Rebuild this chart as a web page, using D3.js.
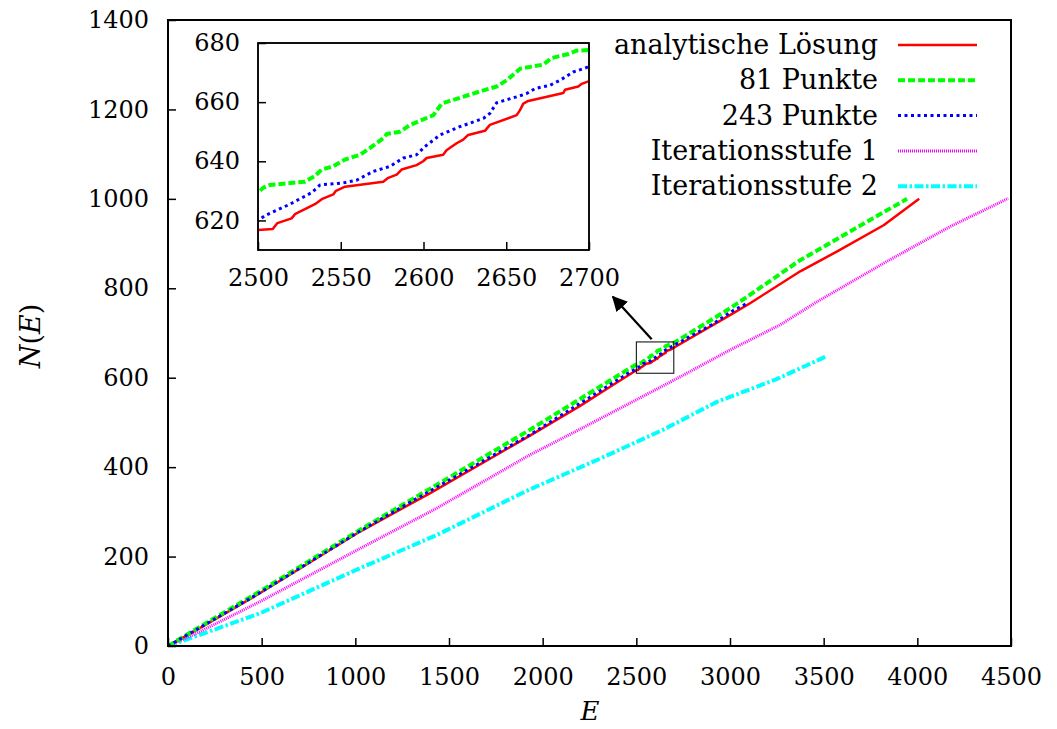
<!DOCTYPE html>
<html>
    <head>
        <style>
            body { margin: 0; background: white; }
            text { font-family: "DejaVu Serif", serif; fill: black; }
            .cadre { fill: none; stroke: black; stroke-width: 2; }
            .cadre_inset { fill: white; stroke: black; stroke-width: 1.5; }
            .axe path { display: none; }
            .axe line { stroke: black; stroke-width: 1.5; }
            .courbe { fill: none; stroke-linejoin: round; }
        </style>
    </head>
    <body>
        <div id="plateau"></div>
        <script src="https://cdn.jsdelivr.net/npm/d3@7"></script>
        <script>

//////////////////// donnees ////////////////////
// [E, N(E)]
let analytique = [[0,0],[170,40],[490,118],[1025,256],[1400,342],[1930,470],[2200,537],[2350,577],
    [2500,616.8],[2508.9,617.1],[2511.7,619.1],[2520.3,620.7],[2522.3,622.1],[2534.4,625.5],[2538.5,627.2],
    [2545.5,628.8],[2547.1,630],[2552.6,631.4],[2575.7,633.1],[2578.7,634.4],[2583.8,635.5],[2586.8,637.2],
    [2595.8,638.7],[2599.8,640],[2601.9,641.1],[2611.9,642.2],[2613.9,643.7],[2620,646.1],[2624,647.3],
    [2627,648.9],[2637.1,650.3],[2640.1,652.3],[2656.3,655.6],[2658.3,657.3],[2660.3,659.5],[2663.3,660.4],
    [2684.5,663.1],[2685.5,664.2],[2693.5,665.3],[2695.6,666.2],[2699.6,667],
    [3000,740],[3105,766],[3375,838],[3570,882],[3820,941],[4010,1000]];
let punkte81 = [[0,0],[170,43],[490,122],[1025,260],[1400,352],[1930,483],[2465,621],
    [2500,629.4],[2503.2,631.1],[2507.2,632],[2528.4,633.1],[2534.4,635],[2538.5,637.2],[2545.5,638.3],
    [2552.6,640.6],[2561.6,642.2],[2567.7,644.5],[2575.7,647.8],[2577.8,649.2],[2585.8,650],[2591.9,652.3],
    [2606,655.6],[2611,659.5],[2616,660.4],[2636.2,664],[2644.2,665.3],[2650.3,667.4],[2658.3,671.3],
    [2672.4,672.7],[2677.4,674.9],[2687.5,676.3],[2692.5,677.4],[2699.6,677.6],
    [3000,755],[3105,785],[3375,863],[3640,927],[3945,1000]];
let punkte243 = [[0,0],[170,41],[490,119],[1025,257],[1400,347],[1930,472],[2465,612],
    [2500,619.9],[2504.2,621.6],[2519.3,625.5],[2532.4,629.4],[2537.5,632],[2551.6,632.7],[2559.6,633.6],
    [2569.7,636.6],[2579.8,638.3],[2587.8,641.1],[2595.8,642.2],[2600.9,645],[2610,648.9],[2622,651.7],
    [2636.2,654.5],[2640.1,656.2],[2644.2,659.8],[2656.3,661.8],[2662.3,662.9],[2667.4,664.6],[2676.4,665.7],
    [2682.5,667.4],[2690.5,670.2],[2697.6,671.5],
    [2900,718],[3016,750],[3090,766]];
let iteration1 = [[0,0],[170,32],[490,99],[1025,218],[1434,308],[1930,427],[2200,485],[2465,543],
    [2716,598],[3000,662],[3267,718],[3465,770],[3820,856],[4175,938],[4485,1001]];
let iteration2 = [[0,0],[170,25],[490,73],[1025,174],[1434,248],[1930,350],[2290,416],[2645,484],
    [2930,546],[3000,557],[3250,597],[3515,648]];

let noms = ['analytische Lösung', '81 Punkte', '243 Punkte', 'Iterationsstufe 1', 'Iterationsstufe 2'];
let couleurs = ['#ff0000', '#00ff00', '#0000ff', '#ff00ff', '#00ffff'];
let epaisseurs = [2.5, 4, 3, 3, 4];
let tirets = ['none', '7,3', '3,3.5', '1,1', '9,2.5,2.5,2.5'];

let ticks_x = [0, 500, 1000, 1500, 2000, 2500, 3000, 3500, 4000, 4500];
let ticks_y = [0, 200, 400, 600, 800, 1000, 1200, 1400];
let ticks_xi = [2500, 2550, 2600, 2650, 2700];
let ticks_yi = [620, 640, 660, 680];
let domaine_xi = [2500, 2700];
let domaine_yi = [610, 680];
let fleche = [[2582, 686], [2375, 781]];

//////////////////// position page ////////////////////
let W = 1057, H = 729;
let x = d3.scaleLinear([0, 4500], [168, 1011]);
let y = d3.scaleLinear([0, 1400], [646, 20]);
let xi = d3.scaleLinear(domaine_xi, [258, 589]);
let yi = d3.scaleLinear(domaine_yi, [250, 43]);

let svg = d3.select('#plateau').append('svg')
    .attr('width', W)
    .attr('height', H);

let defs = svg.append('defs');
defs.append('clipPath').attr('id', 'clip_main').append('rect')
    .attr('x', 168).attr('y', 20).attr('width', 843).attr('height', 626);
defs.append('clipPath').attr('id', 'clip_inset').append('rect')
    .attr('x', xi(2500)).attr('y', yi(680)).attr('width', xi(2700) - xi(2500)).attr('height', yi(610) - yi(680));
defs.append('marker').attr('id', 'pointe')
    .attr('viewBox', '0 0 10 10').attr('refX', 9).attr('refY', 5)
    .attr('markerWidth', 7).attr('markerHeight', 7).attr('markerUnits', 'strokeWidth')
    .attr('orient', 'auto')
    .append('path').attr('d', 'M0,0 L10,5 L0,10 Z').attr('fill', 'black');

let series = [analytique, punkte81, punkte243, iteration1, iteration2];

//////////////////// graphe principal ////////////////////
let ligne = d3.line().x(d => x(d[0])).y(d => y(d[1]));
let g_main = svg.append('g').attr('clip-path', 'url(#clip_main)');
// ordre de dessin: iterations d'abord, puis les courbes proches
[4, 3, 0, 1, 2].forEach(i => {
    g_main.append('path')
        .classed('courbe', true)
        .attr('d', ligne(series[i]))
        .attr('stroke', couleurs[i])
        .attr('stroke-width', epaisseurs[i])
        .attr('stroke-dasharray', tirets[i]);
});

svg.append('g').classed('axe', true)
    .attr('transform', 'translate(0,646)')
    .call(d3.axisBottom(x).tickValues(ticks_x).tickSize(-8).tickPadding(22).tickFormat(d3.format('d')))
    .selectAll('text').attr('font-size', 24).attr('font-family', '"DejaVu Serif", serif');
svg.append('g').classed('axe', true)
    .attr('transform', 'translate(168,0)')
    .call(d3.axisLeft(y).tickValues(ticks_y).tickSize(-8).tickPadding(19).tickFormat(d3.format('d')))
    .selectAll('text').attr('font-size', 24).attr('font-family', '"DejaVu Serif", serif');

svg.append('rect').classed('cadre', true)
    .attr('x', 168).attr('y', 20).attr('width', 843).attr('height', 626);

// titres des axes
let titre_y = svg.append('text')
    .attr('transform', 'translate(40,336) rotate(-90)')
    .attr('text-anchor', 'middle')
    .attr('font-size', 27);
titre_y.append('tspan').attr('font-style', 'italic').text('N');
titre_y.append('tspan').text('(');
titre_y.append('tspan').attr('font-style', 'italic').text('E');
titre_y.append('tspan').text(')');

svg.append('text')
    .attr('x', 590).attr('y', 720)
    .attr('text-anchor', 'middle')
    .attr('font-size', 26)
    .attr('font-style', 'italic')
    .text('E');

// cadre de zoom et fleche
svg.append('rect')
    .attr('x', x(domaine_xi[0])).attr('y', y(domaine_yi[1]))
    .attr('width', x(domaine_xi[1]) - x(domaine_xi[0]))
    .attr('height', y(domaine_yi[0]) - y(domaine_yi[1]))
    .attr('fill', 'none').attr('stroke', 'black').attr('stroke-width', 1);
svg.append('line')
    .attr('x1', x(fleche[0][0])).attr('y1', y(fleche[0][1]))
    .attr('x2', x(fleche[1][0])).attr('y2', y(fleche[1][1]))
    .attr('stroke', 'black').attr('stroke-width', 2.2)
    .attr('marker-end', 'url(#pointe)');

//////////////////// encart ////////////////////
svg.append('rect').classed('cadre_inset', true)
    .attr('x', xi(2500)).attr('y', yi(680))
    .attr('width', xi(2700) - xi(2500)).attr('height', yi(610) - yi(680));

let ligne_i = d3.line().x(d => xi(d[0])).y(d => yi(d[1]));
let g_inset = svg.append('g').attr('clip-path', 'url(#clip_inset)');
[0, 1, 2].forEach(i => {
    g_inset.append('path')
        .classed('courbe', true)
        .attr('d', ligne_i(series[i]))
        .attr('stroke', couleurs[i])
        .attr('stroke-width', epaisseurs[i])
        .attr('stroke-dasharray', tirets[i]);
});

svg.append('g').classed('axe', true)
    .attr('transform', `translate(0,${yi(610)})`)
    .call(d3.axisBottom(xi).tickValues(ticks_xi).tickSize(-8).tickPadding(19).tickFormat(d3.format('d')))
    .selectAll('text').attr('font-size', 24).attr('font-family', '"DejaVu Serif", serif');
svg.append('g').classed('axe', true)
    .attr('transform', `translate(${xi(2500)},0)`)
    .call(d3.axisLeft(yi).tickValues(ticks_yi).tickSize(-8).tickPadding(18).tickFormat(d3.format('d')))
    .selectAll('text').attr('font-size', 24).attr('font-family', '"DejaVu Serif", serif');

svg.append('rect')
    .attr('x', xi(2500)).attr('y', yi(680))
    .attr('width', xi(2700) - xi(2500)).attr('height', yi(610) - yi(680))
    .attr('fill', 'none').attr('stroke', 'black').attr('stroke-width', 1.5);

//////////////////// legende ////////////////////
let legende = svg.append('g');
noms.forEach((nom, i) => {
    let ly = 45 + i * 35.3;
    legende.append('text')
        .attr('x', 878).attr('y', ly + 9)
        .attr('text-anchor', 'end')
        .attr('font-size', 27)
        .text(nom);
    legende.append('line')
        .attr('x1', 898).attr('x2', 977)
        .attr('y1', ly).attr('y2', ly)
        .attr('stroke', couleurs[i])
        .attr('stroke-width', epaisseurs[i])
        .attr('stroke-dasharray', tirets[i]);
});

        </script>
    </body>
</html>
